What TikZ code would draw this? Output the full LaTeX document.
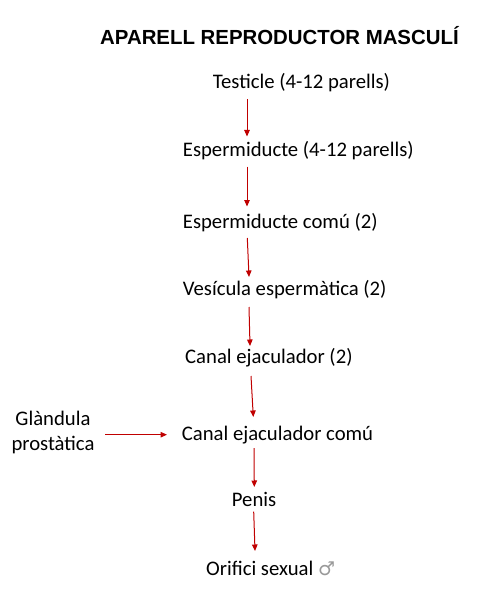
\documentclass[tikz,border=0pt]{standalone}
\usepackage{fontspec}
\setmainfont{Carlito}
\newfontfamily\titlefont{Liberation Sans}
\newfontfamily\symfont{DejaVu Sans}
\usetikzlibrary{arrows.meta}
\definecolor{arrred}{RGB}{192,0,0}
\begin{document}
\begin{tikzpicture}[x=1pt,y=-1pt,
  lbl/.style={anchor=base west,inner sep=0pt,font=\fontsize{20.7}{25}\selectfont},
  flow/.style={draw=arrred,line width=1pt,-{Triangle[length=6.5pt,width=5.5pt]}}]
\useasboundingbox (0,0) rectangle (496,604);
\node[anchor=base west,inner sep=0pt,font=\titlefont\bfseries\fontsize{20.4}{24}\selectfont] (title) at (100,45) {APARELL REPRODUCTOR MASCULÍ};
\node[lbl] (n1) at (212.7,88.3) {Testicle (4-12 parells)};
\node[lbl] (n2) at (182.7,156.7) {Espermiducte (4-12 parells)};
\node[lbl] (n3) at (182.7,228.3) {Espermiducte comú (2)};
\node[lbl] (n4) at (182.7,295) {Vesícula espermàtica (2)};
\node[lbl] (n5) at (185,363.3) {Canal ejaculador (2)};
\node[lbl] (n6) at (181.7,440) {Canal ejaculador comú};
\node[lbl] (n7) at (231.7,506.7) {Penis};
\node[lbl] (n8) at (206,575.7) {Orifici sexual \textcolor{gray!80}{\symfont\fontsize{19}{20}\selectfont ♂}};
\node[anchor=center,inner sep=0pt,align=center,font=\fontsize{20.7}{25}\selectfont] (gp) at (53,432) {Glàndula\\prostàtica};
\coordinate (a1s) at (247,99.5);   \coordinate (a1e) at (247,136.5);
\coordinate (a2s) at (247,166.5);  \coordinate (a2e) at (247,206.5);
\coordinate (a3s) at (247.3,238);  \coordinate (a3e) at (249,277);
\coordinate (a4s) at (249,307);    \coordinate (a4e) at (250,346);
\coordinate (a5s) at (251,376);    \coordinate (a5e) at (253.3,417);
\coordinate (a6s) at (254,448);    \coordinate (a6e) at (254.3,487);
\coordinate (a7s) at (253.7,511.7);\coordinate (a7e) at (255,551);
\coordinate (ahs) at (105,434.7);  \coordinate (ahe) at (167,434.7);
\draw[flow] (a1s) -- (a1e);
\draw[flow] (a2s) -- (a2e);
\draw[flow] (a3s) -- (a3e);
\draw[flow] (a4s) -- (a4e);
\draw[flow] (a5s) -- (a5e);
\draw[flow] (a6s) -- (a6e);
\draw[flow] (a7s) -- (a7e);
\draw[flow] (ahs) -- (ahe);
\end{tikzpicture}
\end{document}
